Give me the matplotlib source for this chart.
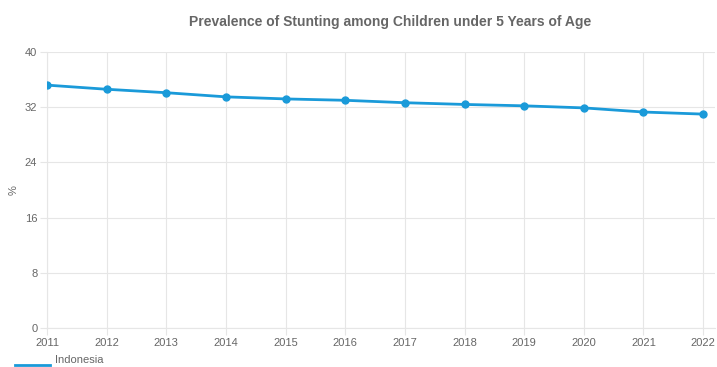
import matplotlib
matplotlib.use("Agg")
import matplotlib.pyplot as plt
from matplotlib.lines import Line2D

years = [2011, 2012, 2013, 2014, 2015, 2016, 2017, 2018, 2019, 2020, 2021, 2022]
stunting = [35.2, 34.6, 34.1, 33.5, 33.2, 33.0, 32.65, 32.4, 32.2, 31.9, 31.3, 31.0]
y_ticks = [0, 8, 16, 24, 32, 40]
series_name = "Indonesia"
title = "Prevalence of Stunting among Children under 5 Years of Age"

W, H = 717, 367
fig = plt.figure(figsize=(W / 100, H / 100), dpi=100)
plt.rcParams['font.family'] = ['Liberation Sans', 'DejaVu Sans']
ax = fig.add_axes([47 / W, 1 - 328 / H, (715 - 47) / W, (328 - 52) / H])

color = "#1a9ad9"
ax.plot(years, stunting, color=color, lw=2.0, marker="o", ms=5, zorder=3)

ax.set_xlim(years[0], years[-1] + 0.2)
ax.set_ylim(0, 40)
ax.set_yticks(y_ticks)
ax.set_xticks(years)
ax.set_xticklabels([str(y) for y in years])
grid_c = "#e6e6e6"
ax.grid(True, color=grid_c, lw=0.8)
for s in ax.spines.values():
    s.set_visible(False)
ax.spines['left'].set_visible(True)
ax.spines['left'].set_color(grid_c)
ax.spines['bottom'].set_visible(True)
ax.spines['bottom'].set_color(grid_c)
ax.tick_params(axis="both", colors=grid_c, labelcolor="#666666", labelsize=8, length=5, width=0.8)
ax.tick_params(axis="x", pad=2)
ax.tick_params(axis="y", pad=2)

fig.text(14 / W, 1 - 190 / H, "%", rotation=90, ha="center", va="center",
         color="#666666", fontsize=8)

fig.text(390 / W, 1 - 22 / H, title, ha="center", va="center", fontsize=10,
         fontweight="bold", color="#666666")

fig.add_artist(Line2D([15 / W, 50 / W], [1 - 365 / H, 1 - 365 / H], color=color, lw=2.0,
                      transform=fig.transFigure))
fig.text(55 / W, 1 - 360 / H, series_name, ha="left", va="center", fontsize=8, color="#666666")

fig.savefig("out.png", dpi=100)
